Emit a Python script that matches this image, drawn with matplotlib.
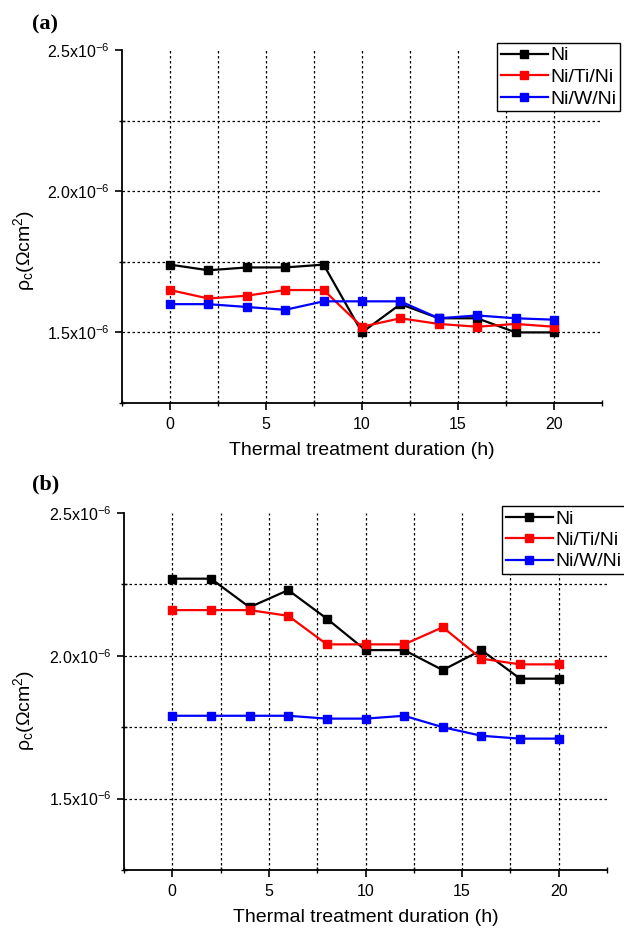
import matplotlib

matplotlib.use("Agg")
import matplotlib.pyplot as plt
from matplotlib.ticker import FixedLocator, FuncFormatter

plt.rcParams["font.family"] = ["Liberation Sans", "DejaVu Sans"]
plt.rcParams["mathtext.default"] = "regular"

# === DATA (rho_c in units of 1e-6 Ohm cm^2) ===
hours = [0, 2, 4, 6, 8, 10, 12, 14, 16, 18, 20]

ni_a = [1.74, 1.72, 1.73, 1.73, 1.74, 1.50, 1.60, 1.55, 1.55, 1.50, 1.50]
niti_a = [1.65, 1.62, 1.63, 1.65, 1.65, 1.52, 1.55, 1.53, 1.52, 1.53, 1.52]
niw_a = [1.60, 1.60, 1.59, 1.58, 1.61, 1.61, 1.61, 1.55, 1.56, 1.55, 1.545]

ni_b = [2.27, 2.27, 2.17, 2.23, 2.13, 2.02, 2.02, 1.95, 2.02, 1.92, 1.92]
niti_b = [2.16, 2.16, 2.16, 2.14, 2.04, 2.04, 2.04, 2.10, 1.99, 1.97, 1.97]
niw_b = [1.79, 1.79, 1.79, 1.79, 1.78, 1.78, 1.79, 1.75, 1.72, 1.71, 1.71]

series_labels = ["Ni", "Ni/Ti/Ni", "Ni/W/Ni"]
series_colors = ["black", "red", "blue"]

y_major = [1.5, 2.0, 2.5]
y_minor = [1.25, 1.75, 2.25]
y_grid = [1.5, 1.75, 2.0, 2.25]
x_major = [0, 5, 10, 15, 20]
x_minor = [-2.5, 2.5, 7.5, 12.5, 17.5, 22.5]
x_grid = [0, 2.5, 5, 7.5, 10, 12.5, 15, 17.5, 20]


def style_axes(ax, ylabel_pos):
    ax.set_xlim(-2.5, 22.5)
    ax.set_ylim(1.25, 2.5)
    ax.spines["top"].set_visible(False)
    ax.spines["right"].set_visible(False)
    for s in ("left", "bottom"):
        ax.spines[s].set_linewidth(1.3)

    # dotted grid, only at inner positions
    for y in y_grid:
        ax.axhline(y, color="black", linestyle=(0, (2, 2)), linewidth=0.9, zorder=1)
    for x in x_grid:
        ax.axvline(x, color="black", linestyle=(0, (2, 2)), linewidth=0.9, zorder=1)

    ax.xaxis.set_major_locator(FixedLocator(x_major))
    ax.xaxis.set_minor_locator(FixedLocator(x_minor))
    ax.yaxis.set_major_locator(FixedLocator(y_major))
    ax.yaxis.set_minor_locator(FixedLocator(y_minor))
    ax.yaxis.set_major_formatter(FuncFormatter(lambda v, p: f"{v:.1f}x10$^{{-6}}$"))

    ax.tick_params(axis="both", which="major", direction="out", length=5, width=1.2, labelsize=11.5)
    ax.tick_params(axis="y", which="major", pad=4)
    ax.tick_params(axis="x", which="major", pad=5)
    ax.tick_params(axis="both", which="minor", direction="inout", length=5, width=1.0)

    ax.set_xlabel("Thermal treatment duration (h)", fontsize=14, labelpad=7)
    ax.set_ylabel(r"$\rho_c(\Omega cm^2)$", fontsize=14)
    ax.yaxis.set_label_coords(*ylabel_pos)


def draw_panel(ax, data):
    lines = []
    for vals, lab, col in zip(data, series_labels, series_colors):
        (l,) = ax.plot(hours, vals, color=col, marker="s", markersize=5.5, linewidth=1.6, label=lab, zorder=3)
        lines.append(l)
    return lines


fig = plt.figure(figsize=(6.24, 9.31), dpi=100)

ax_a = fig.add_axes([122 / 624, 1 - 403 / 931, 480 / 624, 353 / 931])
ax_b = fig.add_axes([124 / 624, 1 - 870 / 931, 483 / 624, 357 / 931])

lines_a = draw_panel(ax_a, [ni_a, niti_a, niw_a])
lines_b = draw_panel(ax_b, [ni_b, niti_b, niw_b])

style_axes(ax_a, (-0.177, 0.433))
style_axes(ax_b, (-0.18, 0.448))

for lines, anchor in [(lines_a, (497 / 624, 1 - 43 / 931)), (lines_b, (502 / 624, 1 - 506 / 931))]:
    leg = fig.legend(
        handles=lines,
        loc="upper left",
        bbox_to_anchor=anchor,
        fontsize=14,
        frameon=True,
        fancybox=False,
        framealpha=1,
        edgecolor="black",
        handlelength=2.4,
        handletextpad=0.15,
        labelspacing=0.2,
        borderpad=0.2,
        borderaxespad=0,
    )
    leg.get_frame().set_linewidth(1.0)

fig.text(45 / 624, 1 - 24 / 931, "(a)", fontsize=16, fontweight="bold", family="Liberation Serif",
         ha="center", va="center")
fig.text(46 / 624, 1 - 484 / 931, "(b)", fontsize=16, fontweight="bold", family="Liberation Serif",
         ha="center", va="center")

fig.savefig("out.png", dpi=100)
